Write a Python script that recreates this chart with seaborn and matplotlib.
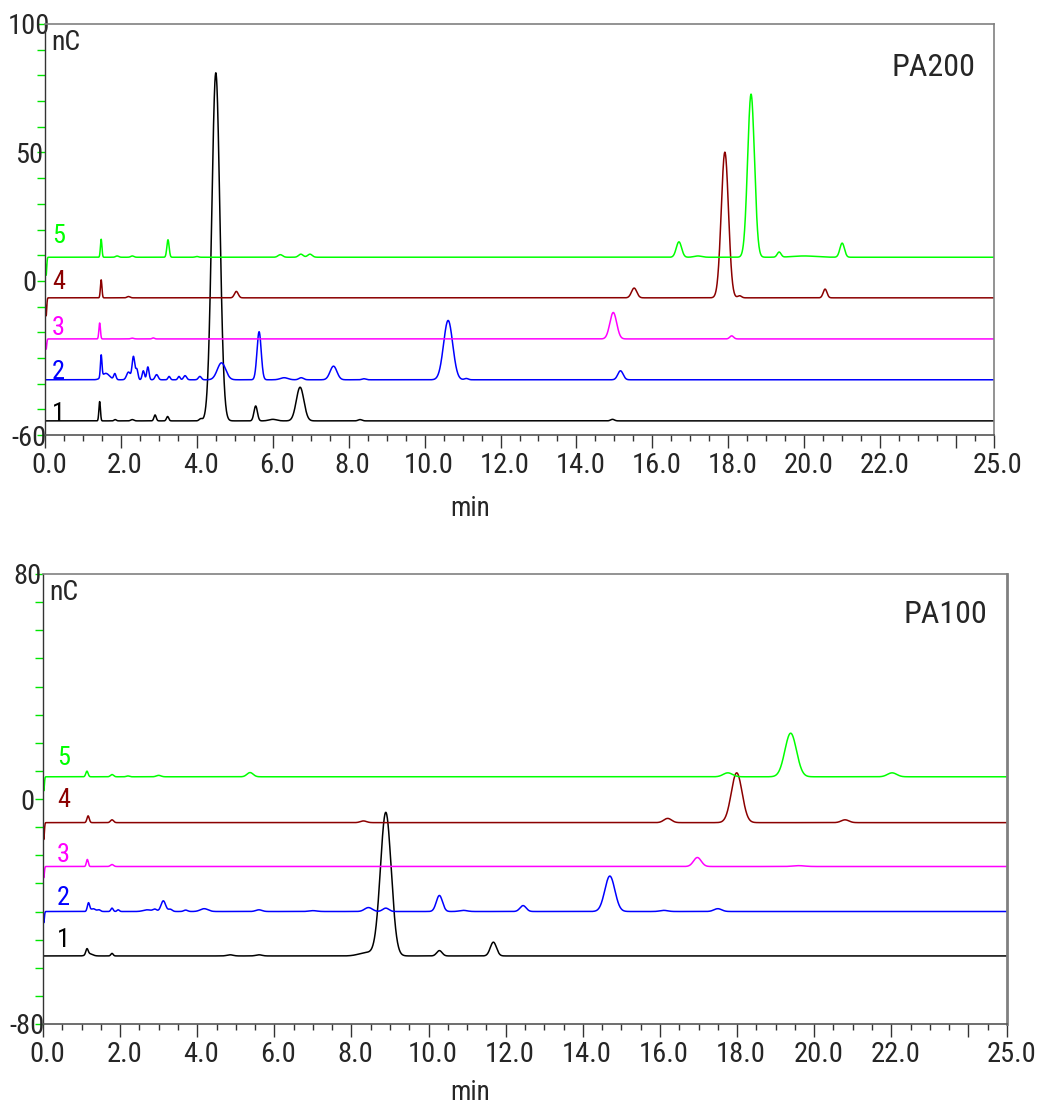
import numpy as np
import pandas as pd
import matplotlib
matplotlib.use("Agg")
import matplotlib.pyplot as plt
import matplotlib.ticker as mticker
import matplotlib.font_manager as fm
from matplotlib.transforms import ScaledTranslation
import seaborn as sns

# ---------------- data ----------------
TRACE_NAMES = ["1", "2", "3", "4", "5"]
TRACE_COLORS = ["#000000", "#0000ff", "#ff00ff", "#8b0000", "#00ff00"]

# PA200 column: baseline of each trace (nC) and peak table (retention min, height nC, sigma min)
PA200_BASELINES = [-54.5, -38.5, -22.6, -6.6, 9.2]
PA200_T1 = [(1.44, 7.5, 0.02), (1.85, 0.5, 0.03), (2.3, 0.5, 0.04), (2.9, 2.3, 0.03),
            (3.23, 1.7, 0.03), (4.1, 0.8, 0.04), (4.5, 135.5, 0.105), (5.55, 5.8, 0.045),
            (6.0, 0.6, 0.1), (6.72, 13.1, 0.1), (8.3, 0.5, 0.05), (14.95, 0.6, 0.05)]
PA200_T2 = [(1.48, 8.5, 0.02), (1.6, 2.5, 0.1), (1.84, 2.3, 0.03), (2.2, 3.0, 0.05),
            (2.33, 9.0, 0.035), (2.42, 4.0, 0.03), (2.59, 3.5, 0.03), (2.71, 5.0, 0.03),
            (2.94, 2.0, 0.04), (3.27, 1.3, 0.03), (3.53, 1.3, 0.03), (3.69, 1.6, 0.04),
            (4.08, 1.3, 0.04), (4.65, 6.6, 0.11), (5.64, 18.7, 0.055), (6.3, 0.8, 0.1),
            (6.75, 0.8, 0.06), (7.6, 5.3, 0.09), (8.4, 0.4, 0.05), (10.62, 23.1, 0.12),
            (11.1, 0.5, 0.05), (15.16, 3.5, 0.07)]
PA200_T3 = [(0.03, -4.0, 0.015), (1.44, 6.2, 0.02), (2.3, 0.3, 0.04), (2.85, 0.4, 0.03),
            (14.97, 10.3, 0.09), (18.09, 1.2, 0.05)]
PA200_T4 = [(0.03, -7.0, 0.015), (1.48, 7.0, 0.02), (2.2, 0.5, 0.04), (5.04, 2.5, 0.05),
            (15.52, 3.8, 0.07), (17.91, 56.7, 0.095), (18.3, 0.8, 0.05), (20.55, 3.4, 0.05)]
PA200_T5 = [(0.03, -7.0, 0.015), (1.48, 7.0, 0.02), (1.9, 0.5, 0.04), (2.3, 0.5, 0.04),
            (3.24, 6.8, 0.03), (4.0, 0.3, 0.04), (6.2, 1.0, 0.06), (6.74, 1.2, 0.06),
            (6.98, 1.2, 0.06), (16.70, 6.0, 0.07), (17.2, 0.5, 0.1), (18.60, 63.5, 0.09),
            (19.34, 2.0, 0.05), (20.0, 0.5, 0.3), (21.0, 5.5, 0.06)]

# PA100 column
PA100_BASELINES = [-55.8, -40.0, -24.0, -8.4, 7.9]
PA100_T1 = [(1.14, 2.0, 0.03), (1.2, 0.8, 0.08), (1.79, 0.9, 0.03), (4.85, 0.4, 0.08),
            (5.6, 0.4, 0.08), (8.4, 1.2, 0.2), (8.89, 51.0, 0.14), (10.28, 1.9, 0.07),
            (11.68, 4.9, 0.08)]
PA100_T2 = [(0.02, -4.0, 0.015), (1.18, 3.0, 0.03), (1.3, 1.0, 0.06), (1.45, 0.6, 0.04),
            (1.79, 1.2, 0.03), (1.95, 0.6, 0.03), (2.7, 0.6, 0.1), (2.9, 0.8, 0.05),
            (3.12, 3.8, 0.06), (3.3, 0.8, 0.05), (3.7, 0.5, 0.05), (4.18, 1.0, 0.1),
            (5.6, 0.6, 0.08), (7.0, 0.3, 0.1), (8.44, 1.4, 0.1), (8.89, 1.2, 0.08),
            (10.28, 5.7, 0.08), (10.9, 0.4, 0.1), (12.45, 2.1, 0.08), (14.7, 12.6, 0.13),
            (16.1, 0.4, 0.1), (17.5, 1.0, 0.1)]
PA100_T3 = [(0.02, -4.0, 0.015), (1.15, 2.5, 0.025), (1.79, 0.7, 0.04), (16.97, 3.2, 0.1),
            (19.6, 0.3, 0.15)]
PA100_T4 = [(0.02, -6.0, 0.015), (1.17, 2.4, 0.03), (1.79, 1.0, 0.04), (8.31, 0.6, 0.08),
            (16.2, 1.5, 0.1), (17.99, 17.7, 0.14), (20.8, 1.0, 0.1)]
PA100_T5 = [(0.02, -5.0, 0.015), (1.14, 2.0, 0.03), (1.79, 0.8, 0.04), (2.2, 0.3, 0.04),
            (3.0, 0.5, 0.06), (5.37, 1.5, 0.08), (17.76, 1.4, 0.12), (19.39, 15.5, 0.15),
            (22.02, 1.4, 0.12)]

XTICK_POS = [0, 2, 4, 6, 8, 10, 12, 14, 16, 18, 20, 22, 24, 25]
XTICK_LABELS = ["0.0", "2.0", "4.0", "6.0", "8.0", "10.0", "12.0", "14.0", "16.0",
                "18.0", "20.0", "22.0", "", "25.0"]
PA200_YTICKS = [-60, 0, 50, 100]
PA100_YTICKS = [-80, 0, 80]

# ---------------- build curves ----------------
t_grid = np.linspace(0, 25, 5001)


def build_frame(baselines, tables):
    frames = []
    for name, base, table in zip(TRACE_NAMES, baselines, tables):
        y = np.full_like(t_grid, base, dtype=float)
        for rt, h, s in table:
            y += h * np.exp(-0.5 * ((t_grid - rt) / s) ** 2)
        frames.append(pd.DataFrame({"min": t_grid, "nC": y, "trace": name}))
    return pd.concat(frames, ignore_index=True)


df200 = build_frame(PA200_BASELINES, [PA200_T1, PA200_T2, PA200_T3, PA200_T4, PA200_T5])
df100 = build_frame(PA100_BASELINES, [PA100_T1, PA100_T2, PA100_T3, PA100_T4, PA100_T5])

# ---------------- font: pick a narrow / condensed sans if one exists ----------------
sns.set_style("white")


def pick_font():
    entries = fm.fontManager.ttflist
    names = {f.name for f in entries}
    for pref in ["Liberation Sans Narrow", "Arial Narrow", "DejaVu Sans Condensed",
                 "Roboto Condensed", "Noto Sans Condensed", "Open Sans Condensed"]:
        if pref in names:
            return pref, "normal"
    cands = []
    for f in entries:
        nm = f.name
        if any(bad in nm for bad in ["Serif", "Mono", "CJK", "Math", "Symbol", "Emoji"]):
            continue
        if f.style != "normal":
            continue
        try:
            w = int(f.weight)
        except (TypeError, ValueError):
            w = 400 if str(f.weight) in ("normal", "regular", "book") else 700
        if w not in (400,):
            continue
        st = str(f.stretch)
        low = (nm + " " + f.fname).lower()
        if st in ("condensed", "semi-condensed", "extra-condensed") or "narrow" in low \
                or "condensed" in low:
            score = 0 if ("sans" in low or "roboto" in low) else 1
            cands.append((score, nm, st))
    if cands:
        cands.sort()
        return cands[0][1], cands[0][2] if cands[0][2] != "normal" else "condensed"
    for pref in ["Liberation Sans", "Roboto"]:
        if pref in names:
            return pref, "normal"
    return "DejaVu Sans", "normal"


FONT_NAME, FONT_STRETCH = pick_font()
plt.rcParams["font.family"] = [FONT_NAME, "DejaVu Sans"]
plt.rcParams["font.stretch"] = FONT_STRETCH

W, H = 1039, 1105
fig = plt.figure(figsize=(W / 100, H / 100), dpi=100)
ax1 = fig.add_axes([45 / W, 1 - 435 / H, (994 - 45) / W, (435 - 24) / H])
ax2 = fig.add_axes([43 / W, 1 - 1024 / H, (1007 - 43) / W, (1024 - 574) / H])

palette = dict(zip(TRACE_NAMES, TRACE_COLORS))


def style_axis(ax, df, ylim, yticks, title, label_pos, xlabel_xy, nc_xy, title_xy):
    sns.lineplot(data=df, x="min", y="nC", hue="trace", palette=palette, estimator=None,
                 sort=False, legend=False, linewidth=1.1, ax=ax)
    ax.set_xlim(0, 25)
    ax.set_ylim(*ylim)
    ax.set_ylabel("")
    for side in ["top", "right"]:
        ax.spines[side].set_color("#808080")
        ax.spines[side].set_linewidth(1.2)
    ax.spines["left"].set_color("#333333")
    ax.spines["bottom"].set_color("#555555")
    ax.spines["left"].set_linewidth(1.0)
    ax.spines["bottom"].set_linewidth(1.2)

    ax.xaxis.set_major_locator(mticker.FixedLocator(XTICK_POS))
    ax.xaxis.set_major_formatter(mticker.FixedFormatter(XTICK_LABELS))
    ax.xaxis.set_minor_locator(mticker.MultipleLocator(0.5))
    ax.tick_params(axis="x", which="major", direction="out", length=9.5, width=1.0,
                   color="#333333", labelsize=20.5, pad=3, bottom=True)
    ax.tick_params(axis="x", which="minor", direction="out", length=4.5, width=1.0,
                   color="#333333", bottom=True)
    for lab in ax.get_xticklabels():
        lab.set_transform(lab.get_transform() + ScaledTranslation(4 / 100, 0, fig.dpi_scale_trans))

    ax.yaxis.set_major_locator(mticker.FixedLocator(yticks))
    ax.yaxis.set_major_formatter(mticker.FormatStrFormatter("%d"))
    ax.yaxis.set_minor_locator(mticker.MultipleLocator(10))
    ax.tick_params(axis="y", which="both", direction="out", length=6, width=1.0,
                   color="#00e600", left=True)
    ax.tick_params(axis="y", which="major", labelsize=20.5, pad=5.5)
    for lab in ax.get_yticklabels():
        lab.set_horizontalalignment("center")

    ax.set_xlabel("min", fontsize=19.5)
    ax.xaxis.set_label_coords(*xlabel_xy)
    ax.xaxis.label.set_verticalalignment("center")

    ax.text(nc_xy[0], nc_xy[1], "nC", transform=ax.transAxes, fontsize=20,
            ha="left", va="center")
    ax.text(title_xy[0], title_xy[1], title, transform=ax.transAxes, fontsize=23,
            ha="right", va="center")
    for name, color, (lx, ly) in zip(TRACE_NAMES, TRACE_COLORS, label_pos):
        ax.text(lx, ly, name, color=color, fontsize=19, ha="left", va="center")


style_axis(ax1, df200, (-60, 100), PA200_YTICKS, "PA200",
           [(0.18, -51.8), (0.18, -35.4), (0.18, -18.3), (0.18, -0.4), (0.18, 17.5)],
           (0.448, -0.178), (0.007, 0.956), (0.98, 0.895))
style_axis(ax2, df100, (-80, 80), PA100_YTICKS, "PA100",
           [(0.36, -50.1), (0.36, -35.2), (0.36, -19.9), (0.36, -0.4), (0.36, 14.6)],
           (0.443, -0.153), (0.007, 0.96), (0.98, 0.909))
ax2.spines["right"].set_linewidth(2.0)

fig.savefig("out.png", dpi=100)
